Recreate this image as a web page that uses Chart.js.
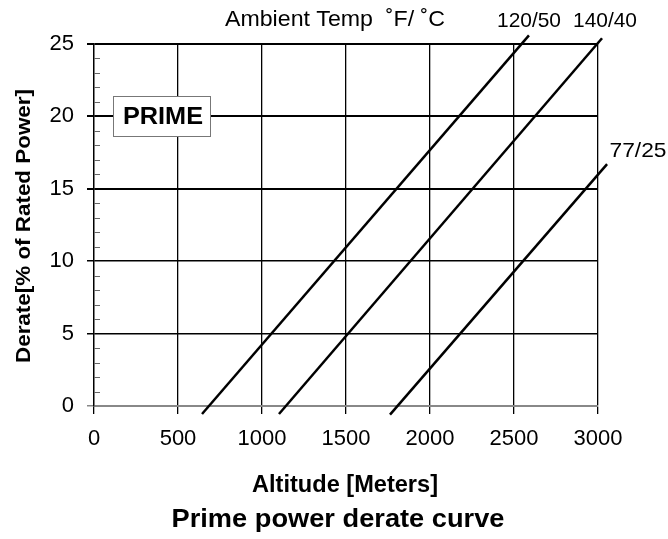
<!DOCTYPE html>
<html>
<head>
<meta charset="utf-8">
<script src="https://cdn.jsdelivr.net/npm/chart.js@4.4.1/dist/chart.umd.min.js"></script>
<style>
  html, body { margin: 0; padding: 0; background: #fff; }
  #wrap { width: 668px; height: 539px; }
</style>
</head>
<body>
<div id="wrap"><canvas id="grafico"></canvas></div>
<script>
// curvas de derate (altitude em metros, derate em %)
const tempLabels = ['120/50', '140/40', '77/25'];
const altInicio = [643, 1101, 1762];
const derateInicio = [-0.55, -0.55, -0.6];
const altFim = [2589, 3024, 3054];
const derateFim = [25.6, 25.4, 16.7];

const xTicks = [0, 500, 1000, 1500, 2000, 2500, 3000];
const yTicks = [0, 5, 10, 15, 20, 25];

const fonte = '"Liberation Sans", Arial, sans-serif';
Chart.defaults.font.family = fonte;
Chart.defaults.color = '#000';

function textoLargura(ctx, texto, x, y, largura, font, align) {
  ctx.font = font;
  const m = ctx.measureText(texto).width;
  ctx.save();
  ctx.translate(x, y);
  ctx.scale(largura / m, 1);
  ctx.textAlign = align || 'center';
  ctx.textBaseline = 'alphabetic';
  ctx.fillStyle = '#000';
  ctx.fillText(texto, 0, 0);
  ctx.restore();
}

const extras = {
  id: 'extras',
  afterDraw(chart) {
    const ctx = chart.ctx;
    const y = chart.scales.y;
    const area = chart.chartArea;

    // minor ticks dentro do eixo
    ctx.save();
    ctx.strokeStyle = '#666';
    ctx.lineWidth = 1;
    for (let v = 1; v < 25; v++) {
      if (v % 5 === 0) continue;
      const py = Math.round(y.getPixelForValue(v)) + 0.5;
      ctx.beginPath();
      ctx.moveTo(area.left, py);
      ctx.lineTo(area.left + 6, py);
      ctx.stroke();
    }
    ctx.restore();

    // caixa PRIME
    ctx.save();
    ctx.fillStyle = '#fff';
    ctx.fillRect(113, 96, 98, 41);
    ctx.strokeStyle = '#777';
    ctx.lineWidth = 1;
    ctx.strokeRect(113.5, 96.5, 97, 40);
    ctx.restore();
    textoLargura(ctx, 'PRIME', 163, 124, 80, 'bold 23px ' + fonte);

    // textos
    textoLargura(ctx, 'Ambient Temp  \u02DAF/ \u02DAC', 335, 26, 220, '22px ' + fonte);
    textoLargura(ctx, tempLabels[0], 529, 27, 64, '21px ' + fonte);
    textoLargura(ctx, tempLabels[1], 605, 27, 64, '21px ' + fonte);
    textoLargura(ctx, tempLabels[2], 638, 157, 57, '21px ' + fonte);
    textoLargura(ctx, 'Altitude [Meters]', 345, 492, 186, 'bold 23px ' + fonte);
    textoLargura(ctx, 'Prime power derate curve', 338, 527, 333, 'bold 25px ' + fonte);

    ctx.save();
    ctx.translate(30, 226);
    ctx.rotate(-Math.PI / 2);
    textoLargura(ctx, 'Derate[% of Rated Power]', 0, 0, 274, 'bold 21px ' + fonte);
    ctx.restore();
  }
};

const datasets = tempLabels.map((lab, i) => ({
  label: lab,
  data: [
    { x: altInicio[i], y: derateInicio[i] },
    { x: altFim[i], y: derateFim[i] }
  ],
  showLine: true,
  borderColor: '#000',
  borderWidth: 2.5,
  pointRadius: 0,
  fill: false,
  clip: false
}));

new Chart(document.getElementById('grafico').getContext('2d'), {
  type: 'scatter',
  data: { datasets },
  options: {
    responsive: true,
    maintainAspectRatio: false,
    animation: false,
    layout: { padding: { left: 0, right: 70, top: 44, bottom: 0 } },
    plugins: { legend: { display: false }, tooltip: { enabled: false } },
    scales: {
      x: {
        type: 'linear',
        min: xTicks[0],
        max: xTicks[xTicks.length - 1],
        afterBuildTicks: s => { s.ticks = xTicks.map(v => ({ value: v })); },
        ticks: { color: '#000', font: { size: 22 }, padding: 12, maxRotation: 0, callback: v => String(v) },
        grid: { color: '#000', lineWidth: 1.3, tickLength: 8 },
        border: { color: '#888', width: 2 },
        afterFit: s => { s.height = 133; }
      },
      y: {
        min: yTicks[0],
        max: yTicks[yTicks.length - 1],
        afterBuildTicks: s => { s.ticks = yTicks.map(v => ({ value: v })); },
        ticks: { color: '#000', font: { size: 22 }, padding: 13, callback: v => String(v) },
        grid: {
          color: c => (c.tick && c.tick.value === 0) ? '#888' : '#000',
          lineWidth: c => (c.tick && c.tick.value >= 15) ? 2 : 1.5,
          tickLength: 7
        },
        border: { color: '#000', width: 1.3 },
        afterFit: s => { s.width = 94; }
      }
    }
  },
  plugins: [extras]
});
</script>
</body>
</html>
